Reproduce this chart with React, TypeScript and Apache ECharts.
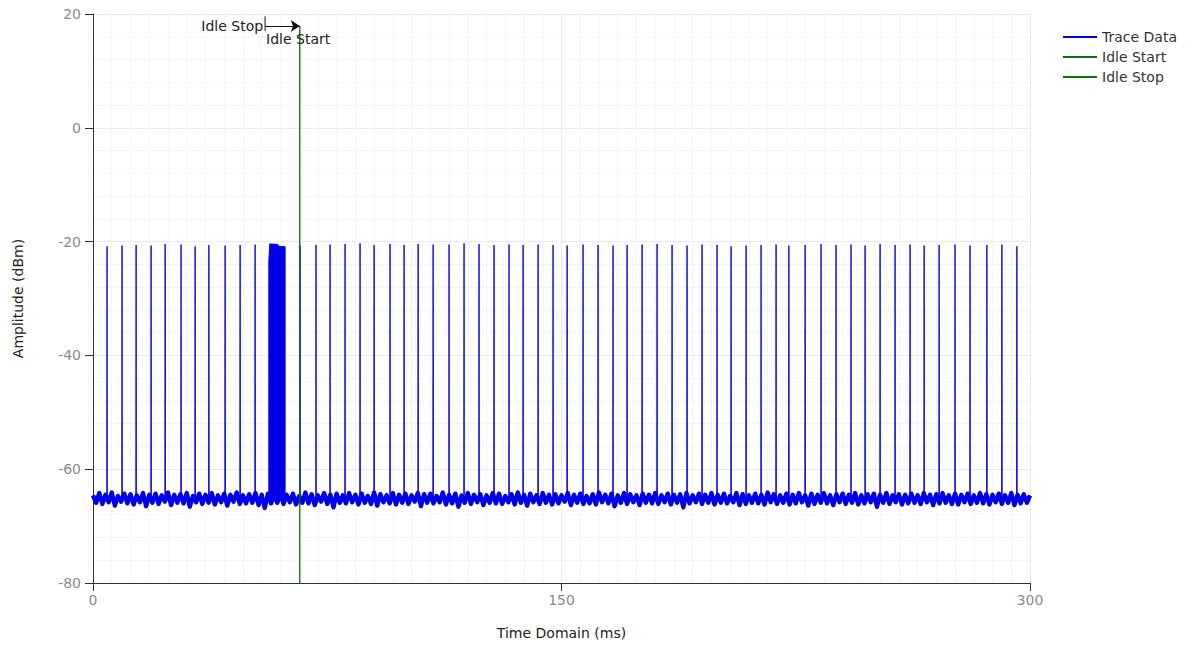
import { useEffect, useRef } from "react";
import * as echarts from "echarts";

// ---- data ----
const xTickValues = [0, 150, 300];
const yTickValues = [-80, -60, -40, -20, 0, 20];

// noise floor samples, one per ms from 0 to 300 (dBm)
const noiseFloor = [
  -64.6, -65.9, -64.2, -66.1, -64.5, -65.8, -64.1, -66.4, -64.7, -65.7, -64.3, -66.0, -64.4, -66.2, -64.6, -65.8, -64.2, -66.5, -64.5, -65.9,
  -64.3, -66.1, -64.6, -65.7, -64.1, -66.3, -64.5, -65.9, -64.4, -66.0, -64.2, -66.6, -64.7, -65.8, -64.3, -66.1, -64.5, -65.9, -64.2, -66.2,
  -64.6, -65.8, -64.3, -66.4, -64.5, -65.7, -64.1, -66.1, -64.6, -66.0, -64.4, -65.9, -64.2, -66.3, -64.5, -66.8, -64.3, -66.0, -64.6, -65.9,
  -64.2, -66.1, -64.5, -65.8, -64.3, -66.2, -64.7, -65.9, -64.1, -66.0, -64.4, -66.3, -64.6, -65.7, -64.2, -66.1, -64.5, -66.7, -64.3, -65.9,
  -64.6, -66.0, -64.2, -65.8, -64.5, -66.2, -64.3, -65.9, -64.7, -66.1, -64.1, -66.4, -64.4, -65.8, -64.6, -66.0, -64.2, -66.2, -64.5, -65.9,
  -64.3, -66.1, -64.6, -65.7, -64.2, -66.5, -64.4, -65.9, -64.3, -66.0, -64.7, -65.8, -64.1, -66.2, -64.5, -66.0, -64.3, -66.6, -64.6, -65.9,
  -64.2, -66.1, -64.5, -65.8, -64.4, -66.3, -64.6, -65.9, -64.2, -66.0, -64.3, -66.1, -64.7, -65.8, -64.4, -66.2, -64.1, -65.9, -64.5, -66.4,
  -64.3, -65.8, -64.6, -66.1, -64.2, -65.9, -64.5, -66.2, -64.4, -66.0, -64.6, -65.7, -64.2, -66.3, -64.5, -65.9, -64.3, -66.1, -64.7, -66.0,
  -64.4, -66.2, -64.1, -65.8, -64.5, -66.0, -64.3, -66.5, -64.6, -65.9, -64.2, -66.1, -64.4, -65.8, -64.6, -66.3, -64.3, -65.9, -64.5, -66.0,
  -64.2, -66.1, -64.6, -65.8, -64.3, -66.2, -64.5, -65.9, -64.4, -66.7, -64.2, -66.0, -64.6, -65.8, -64.3, -66.1, -64.5, -65.9, -64.2, -66.2,
  -64.5, -65.9, -64.3, -66.0, -64.7, -65.8, -64.2, -66.3, -64.4, -66.1, -64.6, -65.9, -64.3, -66.0, -64.5, -66.2, -64.1, -65.8, -64.4, -66.1,
  -64.6, -65.9, -64.3, -66.2, -64.5, -66.0, -64.2, -65.8, -64.6, -66.4, -64.3, -66.1, -64.5, -65.9, -64.2, -66.0, -64.6, -66.3, -64.4, -65.8,
  -64.3, -66.1, -64.5, -65.9, -64.2, -66.2, -64.6, -66.0, -64.4, -65.8, -64.3, -66.6, -64.5, -65.9, -64.2, -66.1, -64.6, -65.8, -64.4, -66.2,
  -64.5, -66.0, -64.3, -65.9, -64.6, -66.1, -64.2, -65.8, -64.5, -66.3, -64.4, -66.0, -64.2, -65.9, -64.6, -66.1, -64.3, -66.2, -64.5, -65.8,
  -64.3, -66.1, -64.6, -65.9, -64.2, -66.0, -64.4, -66.2, -64.5, -65.8, -64.3, -66.1, -64.6, -65.9, -64.2, -66.3, -64.5, -66.0, -64.4, -65.9,
  -64.6,
];

// periodic bursts (ms) and their peak levels (dBm)
const spikeTimes = [
  4.5, 9.3, 13.8, 18.6, 23.1, 28.2, 32.7, 37.1, 42.3, 47.1, 51.9,
  66.3, 71.4, 75.9, 80.7, 85.5, 90.0, 95.1, 99.6, 104.1, 108.9,
  114.0, 118.8, 123.6, 128.4, 133.2, 137.7, 142.5, 147.3, 151.8, 156.9,
  161.7, 166.5, 171.0, 175.8, 180.6, 185.4, 190.2, 195.0, 199.8, 204.3,
  209.1, 213.9, 218.7, 222.8, 228.0, 233.1, 237.9, 242.7, 247.2, 252.0,
  256.8, 261.6, 266.1, 270.9, 276.0, 280.8, 286.2, 291.0, 295.8,
];
const spikePeaks = [
  -20.8, -20.7, -20.6, -20.7, -20.4, -20.5, -20.8, -20.6, -20.7, -20.6, -20.5,
  -20.7, -20.6, -20.5, -20.4, -20.3, -20.6, -20.4, -20.6, -20.4, -20.5,
  -20.5, -20.3, -20.4, -20.6, -20.5, -20.6, -20.5, -20.6, -20.7, -20.5,
  -20.6, -20.7, -20.6, -20.5, -20.4, -20.6, -20.7, -20.5, -20.6, -20.8,
  -20.7, -20.6, -20.5, -20.7, -20.6, -20.4, -20.6, -20.5, -20.7, -20.4,
  -20.6, -20.5, -20.7, -20.6, -20.5, -20.7, -20.6, -20.5, -20.8,
];
const spikeBase = -65.1;

// dense transmission block outline [ms, dBm]
const burstOutline = [
  [56.3, -65.0], [56.3, -23.5], [56.6, -20.4], [59.2, -20.5],
  [59.3, -20.8], [61.5, -20.9], [61.5, -65.0],
];

// markers
const idleStartTime = 66.2;
const idleStopTime = 55.1;
const markerTop = 17.9;
const idleStopTick = [[55.1, 19.6], [55.1, 17.0]];
const idleStartLabelLevel = 15.6;

const seriesNames = ["Trace Data", "Idle Start", "Idle Stop"];

const BLUE = "#0000e6";
const GREEN = "#0a6e0a";
const FONT = "DejaVu Sans";

function buildNoise(): number[][] {
  return noiseFloor.map((v, i) => [i, v]);
}

function buildSpikes(): (number | string)[][] {
  const pts: (number | string)[][] = [];
  spikeTimes.forEach((t, i) => {
    pts.push([t - 0.03, spikeBase]);
    pts.push([t, spikePeaks[i]]);
    pts.push([t + 0.03, spikeBase]);
    pts.push([t + 0.06, "-"]);
  });
  return pts;
}

export default function App() {
  const ref = useRef<HTMLDivElement>(null);

  useEffect(() => {
    if (!ref.current) return;
    const chart = echarts.init(ref.current, null, { renderer: "svg" });

    chart.setOption({
      animation: false,
      backgroundColor: "#ffffff",
      textStyle: { fontFamily: FONT },
      grid: { left: 93, right: 170, top: 14, bottom: 63, containLabel: false },
      legend: {
        orient: "vertical",
        left: 1063,
        top: 29,
        padding: 0,
        icon: "rect",
        itemWidth: 34,
        itemHeight: 2,
        itemGap: 4,
        textStyle: { fontFamily: FONT, fontSize: 14, color: "#333", lineHeight: 16 },
        data: [
          { name: seriesNames[0], itemStyle: { color: BLUE } },
          { name: seriesNames[1], itemStyle: { color: GREEN } },
          { name: seriesNames[2], itemStyle: { color: GREEN } },
        ],
      },
      xAxis: {
        type: "value",
        min: xTickValues[0],
        max: xTickValues[xTickValues.length - 1],
        interval: xTickValues[1] - xTickValues[0],
        name: "Time Domain (ms)",
        nameLocation: "middle",
        nameGap: 43,
        nameTextStyle: { fontFamily: FONT, fontSize: 14, color: "#222" },
        axisLine: { show: true, onZero: false, lineStyle: { color: "#333", width: 1 } },
        axisTick: { show: true, length: 8, lineStyle: { color: "#333" } },
        axisLabel: { fontFamily: FONT, fontSize: 14, color: "#8a8a8a", margin: 10 },
        splitLine: { show: true, lineStyle: { color: "#ebebeb", width: 1 } },
        minorTick: { show: false, splitNumber: 25 },
        minorSplitLine: { show: true, lineStyle: { color: "#f5f5f5", width: 1 } },
      },
      yAxis: {
        type: "value",
        min: yTickValues[0],
        max: yTickValues[yTickValues.length - 1],
        interval: yTickValues[1] - yTickValues[0],
        name: "Amplitude (dBm)",
        nameLocation: "middle",
        nameGap: 68,
        nameRotate: 90,
        nameTextStyle: { fontFamily: FONT, fontSize: 14, color: "#222" },
        axisLine: { show: true, onZero: false, lineStyle: { color: "#333", width: 1 } },
        axisTick: { show: true, length: 8, lineStyle: { color: "#333" } },
        axisLabel: { fontFamily: FONT, fontSize: 14, color: "#8a8a8a", margin: 12 },
        splitLine: { show: true, lineStyle: { color: "#ebebeb", width: 1 } },
        minorTick: { show: false, splitNumber: 5 },
        minorSplitLine: { show: true, lineStyle: { color: "#f5f5f5", width: 1 } },
      },
      series: [
        {
          name: seriesNames[0],
          type: "line",
          data: buildNoise(),
          showSymbol: false,
          symbol: "none",
          lineStyle: { color: BLUE, width: 4.4, join: "round" },
          itemStyle: { color: BLUE },
          z: 3,
        },
        {
          name: seriesNames[0],
          type: "line",
          data: buildSpikes(),
          connectNulls: false,
          showSymbol: false,
          symbol: "none",
          lineStyle: { color: BLUE, width: 1.4 },
          itemStyle: { color: BLUE },
          z: 3,
        },
        {
          name: seriesNames[0],
          type: "custom",
          data: burstOutline,
          silent: true,
          z: 3,
          renderItem: (params: any, api: any) => {
            if (params.dataIndex !== 0) return null;
            return {
              type: "polygon",
              shape: { points: burstOutline.map((p) => api.coord(p)) },
              style: { fill: BLUE, stroke: BLUE, lineWidth: 1 },
            };
          },
        },
        {
          name: seriesNames[1],
          type: "line",
          data: [[idleStartTime, markerTop], [idleStartTime, yTickValues[0]]],
          showSymbol: false,
          symbol: "none",
          lineStyle: { color: GREEN, width: 1.3 },
          itemStyle: { color: GREEN },
          z: 4,
          markPoint: {
            symbol: "circle",
            symbolSize: 0,
            silent: true,
            data: [
              {
                coord: [idleStopTime, idleStartLabelLevel],
                label: {
                  show: true,
                  position: "right",
                  distance: 1,
                  formatter: "Idle Start",
                  fontFamily: FONT,
                  fontSize: 14,
                  color: "#222",
                },
              },
            ],
          },
        },
        {
          name: seriesNames[2],
          type: "line",
          data: idleStopTick,
          showSymbol: false,
          symbol: "none",
          lineStyle: { color: "#111", width: 1 },
          itemStyle: { color: GREEN },
          z: 5,
          markLine: {
            silent: true,
            symbol: ["none", "arrow"],
            symbolSize: 9,
            label: { show: false },
            lineStyle: { color: "#111", width: 1, type: "solid" },
            data: [[{ coord: [idleStopTime, markerTop] }, { coord: [idleStartTime, markerTop] }]],
          },
          markPoint: {
            symbol: "circle",
            symbolSize: 0,
            silent: true,
            data: [
              {
                coord: [idleStopTime, markerTop],
                label: {
                  show: true,
                  position: "left",
                  distance: 2,
                  formatter: "Idle Stop",
                  fontFamily: FONT,
                  fontSize: 14,
                  color: "#222",
                },
              },
            ],
          },
        },
      ],
    });

    return () => chart.dispose();
  }, []);

  return (
    <div
      ref={ref}
      style={{ position: "fixed", left: 0, top: 0, width: 1200, height: 646, background: "#fff" }}
    />
  );
}
